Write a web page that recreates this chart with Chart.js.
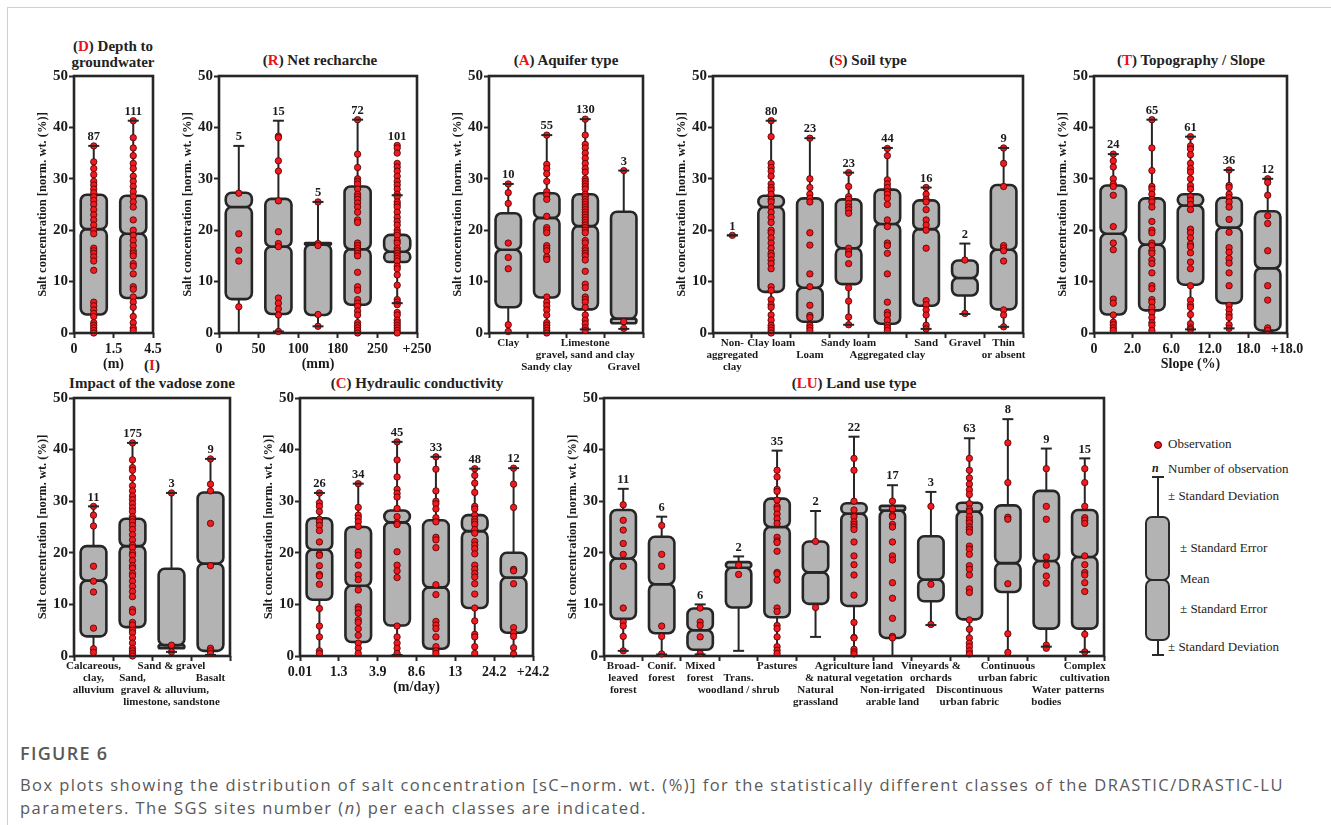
<!DOCTYPE html>
<html>
<head>
<meta charset="utf-8">
<title>Figure 6 - salt concentration box plots</title>
<script src="https://cdn.jsdelivr.net/npm/chart.js@4.4.1/dist/chart.umd.min.js"></script>
<style>
  html, body { margin: 0; padding: 0; background: #fff; }
  body { position: relative; width: 1331px; height: 825px; overflow: hidden;
         font-family: "Liberation Serif", "Times New Roman", serif; color: #222; }
  .frame { position: absolute; left: 7px; top: 7px; width: 1400px; height: 900px; border: 1px solid #cfcfcf; }
  canvas { position: absolute; }
  .pt { position: absolute; text-align: center; font-weight: bold; font-size: 15px; line-height: 16px; white-space: nowrap; }
  .pt b { color: #e5141b; }
  .lg { position: absolute; font-size: 13px; line-height: 16px; white-space: nowrap; }
  .lgdot { position: absolute; left: 1154px; top: 441px; width: 6px; height: 6px; border-radius: 50%;
           background: #f01a20; border: 0.8px solid #4a0000; }
  .bar { position: absolute; background: #2a2a2a; }
  .lgbox { position: absolute; left: 1145px; width: 25px; box-sizing: border-box; border: 2.6px solid #2a2a2a;
           border-radius: 7px; background: #b3b3b3; }
  .cap { position: absolute; left: 20px; font-family: "Open Sans", sans-serif; color: #595959; white-space: nowrap; }
</style>
</head>
<body>
<div class="frame"></div>

<!-- panel titles -->
<div class="pt" style="left:13px;top:38px;width:200px">(<b>D</b>) Depth to<br>groundwater</div>
<div class="pt" style="left:200px;top:52px;width:240px">(<b>R</b>) Net recharche</div>
<div class="pt" style="left:446px;top:52px;width:240px">(<b>A</b>) Aquifer type</div>
<div class="pt" style="left:748px;top:52px;width:240px">(<b>S</b>) Soil type</div>
<div class="pt" style="left:1071px;top:52px;width:240px">(<b>T</b>) Topography / Slope</div>
<div class="pt" style="left:132px;top:357px;width:40px">(<b>I</b>)</div>
<div class="pt" style="left:32px;top:375px;width:240px">Impact of the vadose zone</div>
<div class="pt" style="left:297px;top:375px;width:240px">(<b>C</b>) Hydraulic conductivity</div>
<div class="pt" style="left:734px;top:375px;width:240px">(<b>LU</b>) Land use type</div>

<!-- legend -->
<div class="lgdot"></div>
<div class="lg" style="left:1168px;top:436px">Observation</div>
<div class="lg" style="left:1152px;top:460px;font-style:italic;font-weight:bold;font-size:12px">n</div>
<div class="lg" style="left:1168px;top:461px">Number of observation</div>
<div class="bar" style="left:1157px;top:477px;width:2px;height:178px"></div>
<div class="bar" style="left:1152px;top:476px;width:12px;height:2px"></div>
<div class="bar" style="left:1152px;top:654px;width:12px;height:2px"></div>
<div class="lgbox" style="top:516px;height:65px"></div>
<div class="lgbox" style="top:579px;height:62px"></div>
<div class="lg" style="left:1168px;top:488px">± Standard Deviation</div>
<div class="lg" style="left:1180px;top:540px">± Standard Error</div>
<div class="lg" style="left:1180px;top:571px">Mean</div>
<div class="lg" style="left:1180px;top:601px">± Standard Error</div>
<div class="lg" style="left:1168px;top:639px">± Standard Deviation</div>

<!-- caption -->
<div class="cap" style="top:741px;font-size:18px;font-weight:600;letter-spacing:1.3px;line-height:24px">FIGURE 6</div>
<div class="cap" style="top:773px;font-size:16.5px;letter-spacing:1.45px;line-height:23px">Box plots showing the distribution of salt concentration [sC–norm. wt. (%)] for the statistically different classes of the DRASTIC/DRASTIC-LU<br>parameters. The SGS sites number (<i>n</i>) per each classes are indicated.</div>

<script>
const INK = '#262626';
const SERIF = "'Liberation Serif', 'Times New Roman', serif";
const Y_TITLE = 'Salt concentration [norm. wt. (%)]';

// (D) Depth to groundwater
const dTicks = ['0', '1.5', '4.5'];
const dN = [87, 111];
const dWhiskLow = [0, 0];
const dBoxLow = [3.6, 6.8];
const dMean = [20.2, 19.3];
const dBoxHigh = [26.9, 26.7];
const dWhiskHigh = [36.4, 41.3];
const dObs = [
  [36.4, 33.3, 32, 30.8, 29.5, 28.8, 28, 27.3, 26.5, 25.8, 25, 24, 23, 22, 21, 20, 19.3, 16.5, 16, 15.5, 14.8, 14, 12.2, 6, 5.3, 4.5, 3.8, 3.2, 2, 1.5, 1, 0.5, 0],
  [41.3, 38, 36, 34.5, 33, 32, 30.5, 29.5, 28.5, 27.5, 26.5, 25.5, 24.5, 22, 20, 19, 18, 17, 16, 15.5, 15, 13.5, 13, 11.5, 9, 8.5, 7, 6, 5, 3.2, 2, 1, 0.5]
];

// (R) Net recharge
const rTicks = ['0', '50', '100', '180', '250', '+250'];
const rN = [5, 15, 5, 72, 101];
const rWhiskLow = [0, 0.3, 1.3, 0, 5.8];
const rBoxLow = [6.6, 3.7, 3.5, 5.5, 13.8];
const rMean = [24.5, 16.8, 17.2, 16.3, 15.8];
const rBoxHigh = [27.3, 26.1, 17.5, 28.5, 19.1];
const rWhiskHigh = [36.4, 41.3, 25.5, 41.5, 26.8];
const rObs = [
  [27.2, 19.3, 16.1, 14, 5.1],
  [38.3, 38, 33.5, 31.5, 25.7, 19.7, 17.4, 16.8, 6.8, 5.8, 4.7, 3.5, 0.3],
  [25.5, 17.4, 17, 3.6, 1.3],
  [41.5, 34.8, 32.2, 30, 29.5, 29, 28, 27, 26.5, 26, 25.3, 24.5, 23.5, 22, 21.5, 17.5, 17, 16.5, 16, 15.5, 15, 11.8, 9, 8.3, 6.5, 5.8, 5.2, 4.3, 3.5, 2, 1.5, 1, 0.5, 0],
  [36.5, 36, 35, 33, 32.3, 31.5, 30.5, 29.5, 28.8, 28, 27, 26.5, 25.5, 25, 24.5, 23.5, 22.5, 21.7, 21, 20, 19.5, 19, 18, 17.5, 16.5, 16, 15.5, 15, 14.5, 14, 13, 12.5, 11.3, 9.3, 6.5, 6, 5.5, 4, 3.5, 2.5, 2, 1.5, 1, 0.5, 0]
];

// (A) Aquifer type
const aCats = [['Clay'], ['', '', 'Sandy clay'], ['Limestone', 'gravel, sand and clay'], ['', '', 'Gravel']];
const aN = [10, 55, 130, 3];
const aWhiskLow = [0, 0, 0.7, 0.8];
const aBoxLow = [5, 6.9, 4.6, 1.9];
const aMean = [16.2, 22.4, 20.8, 2.8];
const aBoxHigh = [23.3, 27.2, 27, 23.6];
const aWhiskHigh = [29, 38.5, 41.6, 31.6];
const aObs = [
  [29, 27.3, 25.2, 17.5, 14.7, 12.5, 1.6, 0.3],
  [38.5, 32.8, 32, 31, 29.5, 27.5, 26.8, 26, 22.7, 20.5, 20, 19.5, 17, 16.5, 16, 14.8, 14.3, 7, 6, 5.3, 4.5, 3.5, 2, 1.5, 1, 0.5, 0],
  [41.6, 38.5, 36.7, 36, 35, 34, 33, 32, 31.3, 30, 29.5, 29, 28.5, 28, 27, 26.5, 26, 25.5, 25, 24.5, 24, 23.5, 23, 22.5, 22, 21.5, 21, 20.5, 20, 19.5, 18, 17.5, 16.5, 16, 15.5, 15, 14.2, 12, 9.5, 8.8, 7, 6.5, 6, 5, 3.5, 2.5, 1.8, 1, 0.5],
  [31.6, 2.2, 0.9]
];

// (S) Soil type
const sCats = [['Non-', 'aggregated', 'clay'], ['Clay loam'], ['', 'Loam'], ['Sandy loam'], ['', 'Aggregated clay'], ['Sand'], ['Gravel'], ['Thin', 'or absent']];
const sN = [1, 80, 23, 23, 44, 16, 2, 9];
const sWhiskLow = [19, 0, 0, 1.6, 0, 0.8, 3.7, 1.2];
const sBoxLow = [19, 8, 2.2, 9.5, 1.8, 5.3, 7.3, 4.6];
const sMean = [19, 24.5, 8.8, 16.5, 21.2, 20.2, 10.7, 16.2];
const sBoxHigh = [19, 26.7, 26.2, 26, 27.9, 25.8, 14.1, 28.8];
const sWhiskHigh = [19, 41.3, 37.9, 31.2, 36, 28.3, 17.4, 36];
const sObs = [
  [19],
  [41.3, 38.2, 33, 32.2, 31.5, 30.5, 29, 28.3, 27.8, 27, 26, 25.5, 24.5, 23.5, 22.5, 21.5, 20, 19.5, 18.5, 17.5, 16.5, 15.5, 15, 14.2, 13.5, 12.5, 9, 8.3, 6.5, 5.5, 5, 3.5, 2.5, 1.5, 1, 0.5, 0],
  [37.9, 30, 28.3, 27, 26.2, 25.5, 19.5, 17.1, 11.5, 9, 5.4, 3.4, 3, 1.5, 1, 0.5],
  [31.2, 28.5, 26.5, 26, 25.2, 24.5, 24, 23.3, 16.5, 15.8, 15.3, 13.5, 8.8, 6.2, 3.1, 1.6],
  [35.9, 34.5, 29.8, 29, 28.3, 27.5, 27, 26.2, 25, 22, 20.7, 17.5, 17, 15.5, 11.5, 6, 4, 3.5, 2.5, 1.5, 1, 0.5],
  [28.3, 27, 26, 25.5, 24, 22, 21, 20, 16.5, 6.3, 5.5, 4.5, 3.5, 1.5, 0.8],
  [14.2, 3.8],
  [36, 33, 28.5, 17, 16.5, 16, 14, 4.5, 3.5, 1.2]
];

// (T) Topography / slope
const tTicks = ['0', '2.0', '6.0', '12.0', '18.0', '+18.0'];
const tN = [24, 65, 61, 36, 12];
const tWhiskLow = [0, 0, 0.7, 0.9, 0.3];
const tBoxLow = [3.6, 4.4, 9.4, 5.8, 0.5];
const tMean = [19.3, 17.2, 24.8, 20.5, 12.6];
const tBoxHigh = [28.7, 26.2, 27, 26.3, 23.7];
const tWhiskHigh = [34.8, 41.5, 38.2, 31.7, 30];
const tObs = [
  [34.8, 33.5, 32.3, 30, 29, 28.5, 26.8, 20.7, 17.5, 16.2, 6.6, 5.8, 3.5, 2.1, 1.6, 1, 0.5],
  [41.5, 36, 31.6, 28.5, 28, 27, 26, 25.5, 24.5, 21.7, 20, 19.5, 17.5, 17, 16, 15.5, 14.2, 13.5, 11.7, 9.2, 8.6, 6.5, 6, 5, 4, 3, 2, 1.5, 0.5],
  [38.2, 36.4, 35.8, 34.7, 33, 32, 31.3, 30, 28.7, 28, 26.5, 25.8, 25, 24, 20.2, 19.5, 18.5, 17.3, 16.8, 15.6, 13.8, 12.5, 9.2, 6.4, 5.5, 5, 3.6, 1.8, 1, 0.7],
  [31.7, 28.7, 28.3, 27, 26.3, 25.5, 24.5, 22.1, 19.6, 16.6, 15.7, 14.5, 13.6, 11.7, 9.2, 5.4, 4.5, 3.6, 3, 1.6, 0.9],
  [30, 29.3, 26.8, 22.8, 21.3, 16, 9.2, 6.4, 1, 0.5]
];

// (I) Impact of the vadose zone (the long second label is set off to the right, as printed)
const iCats = [['Calcareous,', 'clay,', 'alluvium'], ['', 'Sand,'], ['', '', 'gravel & alluvium,'], ['Sand & gravel', '', '', 'limestone, sandstone'], ['', 'Basalt']];
const iLabelAt = [0.5, 1.5, 2.33, 2.5, 3.5];
const iN = [11, 175, 3, 9];
const iWhiskLow = [0, 0, 0.8, 0.2];
const iBoxLow = [3.8, 5.6, 1.5, 1];
const iMean = [14.6, 21.3, 2.1, 17.9];
const iBoxHigh = [21.3, 26.6, 16.9, 31.7];
const iWhiskHigh = [29, 41.3, 31.6, 38.2];
const iObs = [
  [29, 27.3, 25.2, 17.4, 14.5, 12.4, 5.4, 1.4, 0.7],
  [41.3, 38, 36.5, 36, 34.5, 33, 32, 31, 30.3, 29.5, 28.7, 28, 27, 26.5, 26, 25.3, 24.5, 23.5, 22.5, 21.5, 21, 20, 19.5, 18.5, 17.5, 17, 16, 15.5, 14.5, 13.5, 12.5, 11.5, 9, 8.5, 6.5, 6, 5, 4.5, 3.5, 2.5, 1.5, 1, 0.5, 0],
  [31.6, 2.1, 0.8],
  [38.2, 33.3, 32, 25.7, 17.5, 1.5, 1, 0.5]
];

// (C) Hydraulic conductivity
const cTicks = ['0.01', '1.3', '3.9', '8.6', '13', '24.2', '+24.2'];
const cN = [26, 34, 45, 33, 48, 12];
const cWhiskLow = [0, 0, 0.2, 0, 0, 0];
const cBoxLow = [10.9, 2.7, 5.9, 1.4, 9.3, 4.5];
const cMean = [20.6, 13.6, 25.9, 13.3, 24.2, 15.2];
const cBoxHigh = [26.7, 25, 28.2, 26.3, 27.3, 20];
const cWhiskHigh = [31.6, 33.4, 41.5, 38.6, 36.3, 36.4];
const cObs = [
  [31.6, 29.7, 29, 28, 26.5, 26, 25.3, 24.3, 22.1, 19.8, 19.5, 17.5, 15.8, 15.5, 13.9, 9.2, 5.8, 3.7, 1, 0.5],
  [33.4, 28.8, 27.3, 26.7, 26, 25.1, 20.2, 19.5, 17.6, 15.7, 14.8, 12.8, 9.5, 9, 8.3, 7, 6.5, 5.3, 4, 2.5, 1.5, 0.5],
  [41.5, 38, 34.7, 32.3, 31.5, 30.8, 28.6, 27, 25.8, 25.5, 20.2, 17.6, 16.5, 15.2, 5.8, 3.7, 2.5, 1.5, 0.5],
  [38.6, 36.2, 32, 30, 29.5, 28.5, 26.8, 26, 23, 22.5, 21, 13.8, 11.9, 6.7, 6, 5.3, 3.7, 1.8, 1, 0.5],
  [36.3, 35, 33.5, 31.7, 29, 28.5, 27.3, 26.5, 26, 25.5, 24.5, 23.8, 22.2, 21.5, 20.8, 19.8, 17.6, 16.8, 16, 15.3, 14, 12, 9.3, 6.8, 4.2, 3.7, 1.8, 0.5],
  [36.4, 33.3, 28.8, 16.8, 16.5, 14, 5.5, 4.5, 3.8, 1.6, 0.4]
];

// (LU) Land use type
const luCats = [
  ['Broad-', 'leaved', 'forest'], ['Conif.', 'forest'], ['Mixed', 'forest'], ['', 'Trans.', 'woodland / shrub'],
  ['Pastures'], ['', '', 'Natural', 'grassland'], ['Agriculture land', '& natural vegetation'],
  ['', '', 'Non-irrigated', 'arable land'], ['Vineyards &', 'orchards'], ['', '', 'Discontinuous', 'urban fabric'],
  ['Continuous', 'urban fabric'], ['', '', 'Water', 'bodies'], ['Complex', 'cultivation', 'patterns']
];
const luN = [11, 6, 6, 2, 35, 2, 22, 17, 3, 63, 8, 9, 15];
const luWhiskLow = [1, 0.3, 0.3, 1, 0, 3.7, 0, 0, 6, 0, 0, 1.8, 0.8];
const luBoxLow = [7.2, 4.4, 1.2, 9.4, 7.5, 10.1, 9.7, 3.5, 10.6, 7.1, 12.4, 5.3, 5.3];
const luMean = [18.9, 13.9, 5, 17.1, 25, 16.2, 27.6, 28.2, 14.8, 28, 18, 18.4, 19.2];
const luBoxHigh = [28.3, 23.1, 9.2, 18.2, 30.5, 22.2, 29.6, 29.1, 23.2, 29.7, 29.2, 32, 28.3];
const luWhiskHigh = [32.4, 27, 10, 19.3, 39.8, 28.1, 42.5, 33.1, 31.8, 42.2, 45.9, 40.2, 38.3];
const luObs = [
  [29.3, 26.3, 24.4, 21.8, 19.7, 17.4, 9.3, 6.6, 5.8, 3.8, 1],
  [25.3, 19.7, 17.4, 5.8, 3.8, 0.4],
  [9.3, 6.6, 5.9, 3.7, 0.5],
  [17.6, 15.8],
  [36, 34.7, 32.3, 31.9, 30.2, 29, 28.5, 27.5, 26.6, 25.7, 23, 22.3, 22, 20.3, 16.2, 15.9, 14.7, 9.3, 8.6, 5.9, 5.3, 3.7, 1.8, 1.1, 0.5],
  [22.2, 9.4],
  [38.3, 36, 30, 28.3, 27, 26, 25.5, 25, 24.5, 22.1, 19.4, 17.7, 15.7, 11.8, 6.5, 3.6, 3.5, 1.3, 0.8, 0.4],
  [30, 28.5, 27.3, 27, 25.5, 25, 22.1, 19.4, 18.6, 14.2, 11.2, 7.3, 3.8, 3.5],
  [29, 13.9, 6.1],
  [38.3, 36, 34.5, 33.3, 32.2, 31.3, 29.5, 28.5, 28, 27, 26.3, 25.8, 25, 24.5, 24, 21.3, 20.7, 19.7, 17.5, 16.8, 15.7, 13, 12.3, 7, 5.2, 3.5, 2.5, 1.8, 1, 0.4],
  [41.3, 33.6, 26.9, 26.5, 14, 4.3, 0.7],
  [36.3, 29, 26.5, 19.2, 17.6, 15.5, 14.1, 2.1, 1.5],
  [36.3, 33.6, 29, 26.8, 26.3, 25.7, 19.4, 17.7, 16.2, 15.7, 14.2, 12.5, 4.2, 0.8]
];

// plot areas (pixels on the page) and the arrays each panel uses
const panels = [
  { left: 74, right: 153, top: 76, bottom: 333, ticks: dTicks, xTitle: '(m)',
    n: dN, wLo: dWhiskLow, bLo: dBoxLow, mean: dMean, bHi: dBoxHigh, wHi: dWhiskHigh, obs: dObs },
  { left: 219, right: 417, top: 76, bottom: 333, ticks: rTicks, xTitle: '(mm)',
    n: rN, wLo: rWhiskLow, bLo: rBoxLow, mean: rMean, bHi: rBoxHigh, wHi: rWhiskHigh, obs: rObs },
  { left: 489, right: 643, top: 76, bottom: 333, cats: aCats,
    n: aN, wLo: aWhiskLow, bLo: aBoxLow, mean: aMean, bHi: aBoxHigh, wHi: aWhiskHigh, obs: aObs },
  { left: 713, right: 1023, top: 76, bottom: 333, cats: sCats,
    n: sN, wLo: sWhiskLow, bLo: sBoxLow, mean: sMean, bHi: sBoxHigh, wHi: sWhiskHigh, obs: sObs },
  { left: 1094, right: 1287, top: 76, bottom: 333, ticks: tTicks, xTitle: 'Slope (%)',
    n: tN, wLo: tWhiskLow, bLo: tBoxLow, mean: tMean, bHi: tBoxHigh, wHi: tWhiskHigh, obs: tObs },
  { left: 74, right: 230, top: 398, bottom: 656, cats: iCats, labelAt: iLabelAt,
    n: iN, wLo: iWhiskLow, bLo: iBoxLow, mean: iMean, bHi: iBoxHigh, wHi: iWhiskHigh, obs: iObs },
  { left: 300, right: 533, top: 398, bottom: 656, ticks: cTicks, xTitle: '(m/day)',
    n: cN, wLo: cWhiskLow, bLo: cBoxLow, mean: cMean, bHi: cBoxHigh, wHi: cWhiskHigh, obs: cObs },
  { left: 604, right: 1104, top: 398, bottom: 656, cats: luCats,
    n: luN, wLo: luWhiskLow, bLo: luBoxLow, mean: luMean, bHi: luBoxHigh, wHi: luWhiskHigh, obs: luObs }
];

function roundBox(ctx, x, yA, w, yB, r) {
  const top = Math.min(yA, yB), h = Math.abs(yB - yA);
  if (h < 0.3) return;
  r = Math.min(r, h / 2, w / 2);
  ctx.beginPath();
  ctx.moveTo(x + r, top);
  ctx.arcTo(x + w, top, x + w, top + h, r);
  ctx.arcTo(x + w, top + h, x, top + h, r);
  ctx.arcTo(x, top + h, x, top, r);
  ctx.arcTo(x, top, x + w, top, r);
  ctx.closePath();
  ctx.fill();
  ctx.stroke();
}

// notched box = two rounded boxes meeting at the mean, whiskers and n on top
function boxPlugin(p) {
  return {
    id: 'notchedBoxes',
    beforeDatasetsDraw(chart) {
      const { ctx, chartArea: a, scales: { x, y } } = chart;
      const half = (x.getPixelForValue(1) - x.getPixelForValue(0)) * 0.33;
      ctx.save();
      ctx.strokeStyle = INK;
      ctx.lineWidth = 2.6;
      ctx.strokeRect(a.left, a.top, a.right - a.left, a.bottom - a.top);
      p.mean.forEach((m, i) => {
        const cx = x.getPixelForValue(i + 0.5);
        ctx.lineWidth = 2;
        ctx.beginPath();
        ctx.moveTo(cx, y.getPixelForValue(p.wLo[i]));
        ctx.lineTo(cx, y.getPixelForValue(p.wHi[i]));
        ctx.stroke();
        if (p.bHi[i] > p.bLo[i]) {
          ctx.lineWidth = 2.6;
          ctx.fillStyle = '#b3b3b3';
          roundBox(ctx, cx - half, y.getPixelForValue(p.bLo[i]), 2 * half, y.getPixelForValue(m), 6);
          roundBox(ctx, cx - half, y.getPixelForValue(m), 2 * half, y.getPixelForValue(p.bHi[i]), 6);
        }
      });
      ctx.restore();
    },
    afterDatasetsDraw(chart) {
      const { ctx, scales: { x, y } } = chart;
      ctx.save();
      ctx.strokeStyle = INK;
      ctx.fillStyle = '#1a1a1a';
      ctx.lineWidth = 2;
      ctx.font = 'bold 12.5px ' + SERIF;
      ctx.textAlign = 'center';
      ctx.textBaseline = 'middle';
      p.mean.forEach((m, i) => {
        const cx = x.getPixelForValue(i + 0.5);
        [p.wLo[i], p.wHi[i]].forEach(v => {
          const py = y.getPixelForValue(v);
          ctx.beginPath();
          ctx.moveTo(cx - 5.5, py);
          ctx.lineTo(cx + 5.5, py);
          ctx.stroke();
        });
        const topVal = Math.max(p.wHi[i], ...p.obs[i]);
        ctx.fillText(String(p.n[i]), cx, y.getPixelForValue(topVal) - 9);
      });
      ctx.restore();
    }
  };
}

function makePanel(p) {
  const YW = 39, PT = 12, PR = 20, XH = p.cats ? 75 : 40;
  const N = p.mean.length;
  const cv = document.createElement('canvas');
  cv.width = YW + (p.right - p.left) + PR;
  cv.height = PT + (p.bottom - p.top) + XH;
  cv.style.left = (p.left - YW) + 'px';
  cv.style.top = (p.top - PT) + 'px';
  document.body.appendChild(cv);

  // tick marks on the class boundaries, labels either there (numbers) or under the classes
  const labelOf = new Map();
  for (let k = 0; k <= N; k++) labelOf.set(k, p.cats ? '' : p.ticks[k]);
  if (p.cats) p.cats.forEach((lines, i) => labelOf.set(p.labelAt ? p.labelAt[i] : i + 0.5, lines));
  const tickVals = [...labelOf.keys()].sort((u, v) => u - v);
  const points = p.obs.flatMap((arr, i) => arr.map(v => ({ x: i + 0.5, y: v })));

  new Chart(cv, {
    type: 'scatter',
    data: {
      datasets: [{
        data: points, clip: false,
        pointRadius: 3.2, pointHoverRadius: 3.2,
        backgroundColor: '#f01a20', borderColor: '#4a0000', borderWidth: 0.8
      }]
    },
    options: {
      responsive: false,
      animation: false,
      events: [],
      layout: { padding: { top: PT, right: PR, left: 0, bottom: 0 } },
      plugins: { legend: { display: false }, tooltip: { enabled: false } },
      scales: {
        x: {
          type: 'linear', min: 0, max: N,
          afterBuildTicks: ax => { ax.ticks = tickVals.map(v => ({ value: v })); },
          afterFit: ax => { ax.height = XH; },
          border: { display: false },
          grid: {
            drawOnChartArea: false, drawTicks: true, tickLength: 5, tickWidth: 2,
            tickColor: c => (c.tick && Number.isInteger(c.tick.value)) ? INK : 'rgba(0,0,0,0)'
          },
          ticks: {
            autoSkip: false, maxRotation: 0, minRotation: 0,
            padding: p.cats ? -1 : 3,
            color: '#1a1a1a',
            font: p.cats ? { family: SERIF, size: 11, weight: 'bold', lineHeight: '12px' }
                         : { family: SERIF, size: 14, weight: 'bold' },
            callback: v => labelOf.has(v) ? labelOf.get(v) : ''
          },
          title: {
            display: !!p.xTitle, text: p.xTitle || '', color: '#1a1a1a',
            font: { family: SERIF, size: 14, weight: 'bold' }, padding: 0
          }
        },
        y: {
          min: 0, max: 50,
          afterFit: ax => { ax.width = YW; },
          border: { display: false },
          grid: { drawOnChartArea: false, drawTicks: true, tickLength: 5, tickWidth: 2, tickColor: INK },
          ticks: { stepSize: 10, padding: 1, color: '#1a1a1a', font: { family: SERIF, size: 15, weight: 'bold' } },
          title: {
            display: true, text: Y_TITLE, color: '#1a1a1a',
            font: { family: SERIF, size: 12.5, weight: 'bold' }, padding: 0
          }
        }
      }
    },
    plugins: [boxPlugin(p)]
  });
}

panels.forEach(makePanel);
</script>
</body>
</html>
